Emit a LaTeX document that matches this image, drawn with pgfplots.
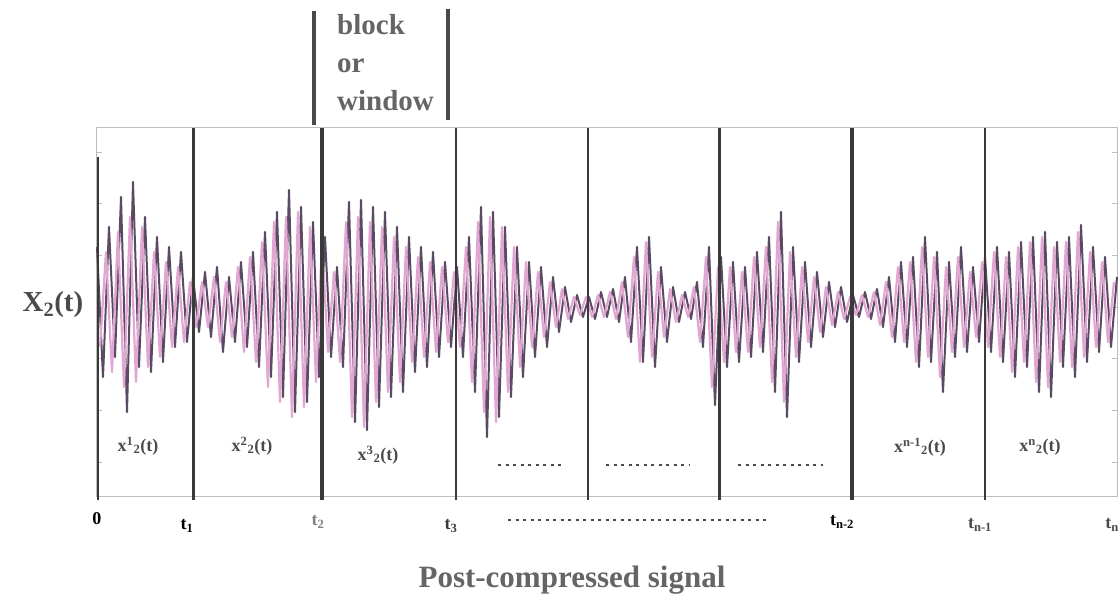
\documentclass[border=0pt]{standalone}
\usepackage{pgfplots}
\pgfplotsset{compat=1.18}
\usepackage{fontspec}
\setmainfont{Liberation Serif}
\definecolor{sigpink}{HTML}{E2A6D2}
\definecolor{sigdark}{HTML}{5B4A63}
\definecolor{frame}{HTML}{BDBDBD}
\definecolor{blk}{HTML}{3A3A3A}
\definecolor{txt}{HTML}{4A4A4A}

\begin{document}
\begin{tikzpicture}
\begin{axis}[
  width=1020pt, height=369pt, scale only axis,
  xmin=0, xmax=1020, ymin=-190, ymax=179,
  axis line style={frame, line width=1pt},
  xtick=\empty,
  ytick={-155,-103,-51,0,52,104,155}, yticklabels={},
  tick style={frame, line width=0.8pt}, major tick length=5pt,
  tick align=inside,
  clip=false,
]
% dark trace
\addplot[sigdark, line width=2pt, line join=round] coordinates {
(0,60) (6,-70) (12,80) (18,-50) (24,110) (30,-105) (36,125) (42,-60) (48,90) (54,-65)
(60,70) (66,-55) (72,60) (78,-40) (84,55) (90,-35) (96,30) (102,-25) (108,35) (114,-30)
(120,40) (126,-45) (132,30) (138,-35) (144,45) (150,-40) (156,55) (162,-60) (168,75) (174,-70)
(180,95) (186,-90) (192,117) (198,-105) (204,100) (210,-95) (216,85) (222,-70) (228,70) (234,-50)
(240,40) (246,-60) (252,105) (258,-115) (264,107) (270,-123) (276,100) (282,-100) (288,95) (294,-90)
(300,80) (306,-85) (312,70) (318,-65) (324,60) (330,-60) (336,55) (342,-50) (348,45) (354,-40)
(360,40) (366,-50) (372,70) (378,-85) (384,100) (390,-130) (396,95) (402,-110) (408,80) (414,-90)
(420,60) (426,-70) (432,45) (438,-50) (444,40) (450,-40) (456,30) (462,-25) (468,20) (474,-15)
(480,12) (486,-10) (492,10) (498,-12) (504,15) (510,-10) (516,18) (522,-15) (528,30) (534,-35)
(540,60) (546,-55) (552,70) (558,-60) (564,40) (570,-35) (576,20) (582,-15) (588,15) (594,-12)
(600,25) (606,-40) (612,60) (618,-98) (624,50) (630,-60) (636,45) (642,-55) (648,40) (654,-50)
(660,55) (666,-45) (672,70) (678,-85) (684,95) (690,-110) (696,60) (702,-55) (708,45) (714,-40)
(720,35) (726,-30) (732,25) (738,-20) (744,20) (750,-15) (756,12) (762,-10) (768,15) (774,-12)
(780,18) (786,-20) (792,30) (798,-35) (804,45) (810,-40) (816,50) (822,-60) (828,70) (834,-55)
(840,55) (846,-85) (852,45) (858,-50) (864,60) (870,-45) (876,40) (882,-35) (888,50) (894,-45)
(900,60) (906,-55) (912,55) (918,-70) (924,65) (930,-60) (936,70) (942,-85) (948,75) (954,-90)
(960,65) (966,-60) (972,70) (978,-70) (984,82) (990,-55) (996,60) (1002,-45) (1008,50) (1014,-40)
(1020,30)
};
% pink trace
\addplot[sigpink, line width=2.2pt, line join=round] coordinates {
(3,-40) (9,55) (15,-65) (21,75) (27,-80) (33,90) (39,-75) (45,80) (51,-60) (57,55)
(63,-50) (69,45) (75,-40) (81,40) (87,-35) (93,25) (99,-20) (105,25) (111,-20) (117,30)
(123,-35) (129,25) (135,-30) (141,40) (147,-45) (153,50) (159,-55) (165,65) (171,-80) (177,85)
(183,-95) (189,90) (195,-110) (201,95) (207,-100) (213,80) (219,-75) (225,65) (231,-45) (237,35)
(243,-55) (249,85) (255,-110) (261,90) (267,-120) (273,85) (279,-95) (285,80) (291,-85) (297,70)
(303,-75) (309,60) (315,-55) (321,50) (327,-50) (333,45) (339,-45) (345,40) (351,-35) (357,35)
(363,-40) (369,60) (375,-75) (381,85) (387,-105) (393,90) (399,-115) (405,80) (411,-85) (417,60)
(423,-60) (429,45) (435,-40) (441,35) (447,-30) (453,25) (459,-20) (465,18) (471,-12) (477,10)
(483,-8) (489,10) (495,-10) (501,12) (507,-10) (513,15) (519,-12) (525,25) (531,-30) (537,50)
(543,-55) (549,65) (555,-50) (561,35) (567,-30) (573,18) (579,-15) (585,12) (591,-10) (597,20)
(603,-35) (609,50) (615,-80) (621,40) (627,-55) (633,40) (639,-45) (645,35) (651,-45) (657,50)
(663,-40) (669,60) (675,-75) (681,85) (687,-95) (693,55) (699,-50) (705,40) (711,-35) (717,30)
(723,-25) (729,20) (735,-18) (741,15) (747,-12) (753,10) (759,-8) (765,12) (771,-10) (777,15)
(783,-18) (789,25) (795,-30) (801,40) (807,-35) (813,45) (819,-55) (825,60) (831,-50) (837,50)
(843,-70) (849,40) (855,-45) (861,50) (867,-40) (873,35) (879,-30) (885,45) (891,-40) (897,55)
(903,-50) (909,50) (915,-65) (921,60) (927,-55) (933,65) (939,-75) (945,70) (951,-80) (957,60)
(963,-55) (969,65) (975,-60) (981,75) (987,-50) (993,55) (999,-40) (1005,45) (1011,-35) (1017,25)
};
% block boundaries
\draw[blk, line width=2.5pt] (axis cs:1,-193) -- (axis cs:1,150);
\draw[blk, line width=3pt] (axis cs:96,-193) -- (axis cs:96,179);
\draw[blk, line width=3.5pt] (axis cs:225,-193) -- (axis cs:225,179);
\draw[blk, line width=2.5pt] (axis cs:359,-193) -- (axis cs:359,179);
\draw[blk, line width=2.5pt] (axis cs:491,-193) -- (axis cs:491,179);
\draw[blk, line width=3pt] (axis cs:622,-193) -- (axis cs:622,179);
\draw[blk, line width=3.5pt] (axis cs:755,-193) -- (axis cs:755,179);
\draw[blk, line width=2.5pt] (axis cs:888,-193) -- (axis cs:888,179);
% block labels
\begin{scope}[font=\fontsize{18}{20}\selectfont\bfseries, text=txt]
\node at (axis cs:41,-139) {x\textsuperscript{1}\textsubscript{2}(t)};
\node at (axis cs:155,-139) {x\textsuperscript{2}\textsubscript{2}(t)};
\node at (axis cs:281,-148) {x\textsuperscript{3}\textsubscript{2}(t)};
\node at (axis cs:823,-140) {x\textsuperscript{n-1}\textsubscript{2}(t)};
\node at (axis cs:943,-140) {x\textsuperscript{n}\textsubscript{2}(t)};
\end{scope}
\draw[txt, line width=2.5pt, dash pattern=on 3pt off 4.5pt] (axis cs:401,-158) -- (axis cs:468,-158);
\draw[txt, line width=2.5pt, dash pattern=on 3pt off 4.5pt] (axis cs:509,-158) -- (axis cs:593,-158);
\draw[txt, line width=2.5pt, dash pattern=on 3pt off 4.5pt] (axis cs:641,-158) -- (axis cs:726,-158);
\draw[txt, line width=2.5pt, dash pattern=on 3pt off 4.5pt] (axis cs:411,-213) -- (axis cs:673,-213);
% time labels
\begin{scope}[font=\fontsize{18}{20}\selectfont\bfseries]
\node[text=black] at (axis cs:0,-212) {0};
\node[text=black] at (axis cs:90,-219) {t\textsubscript{1}};
\node[text=txt!70] at (axis cs:221,-215) {t\textsubscript{2}};
\node[text=blk] at (axis cs:354,-219) {t\textsubscript{3}};
\node[text=black] at (axis cs:745,-215) {t\textsubscript{n-2}};
\node[text=txt] at (axis cs:883,-218) {t\textsubscript{n-1}};
\node[text=txt, anchor=east, inner sep=0pt] at (axis cs:1022,-218) {t\textsubscript{n}};
\end{scope}
% y label
\node[font=\fontsize{29}{31}\selectfont\bfseries, text=txt] at (axis cs:-44,2) {X\textsubscript{2}(t)};
% block or window
\draw[txt, line width=4pt] (axis cs:217,296) -- (axis cs:217,182);
\draw[txt, line width=4pt] (axis cs:351,298) -- (axis cs:351,187);
\node[font=\fontsize{29}{38}\selectfont\bfseries, text=txt!85, align=left, anchor=west, inner sep=0pt]
  at (axis cs:240,244) {block\\or\\window};
% caption
\node[font=\fontsize{31}{33}\selectfont\bfseries, text=txt!85] at (axis cs:475,-273) {Post-compressed signal};
\coordinate (bbsw) at (axis cs:-97,-300);
\coordinate (bbne) at (axis cs:1022,307);
\end{axis}
\pgfresetboundingbox
\path[use as bounding box] (bbsw) rectangle (bbne);
\end{tikzpicture}
\end{document}
